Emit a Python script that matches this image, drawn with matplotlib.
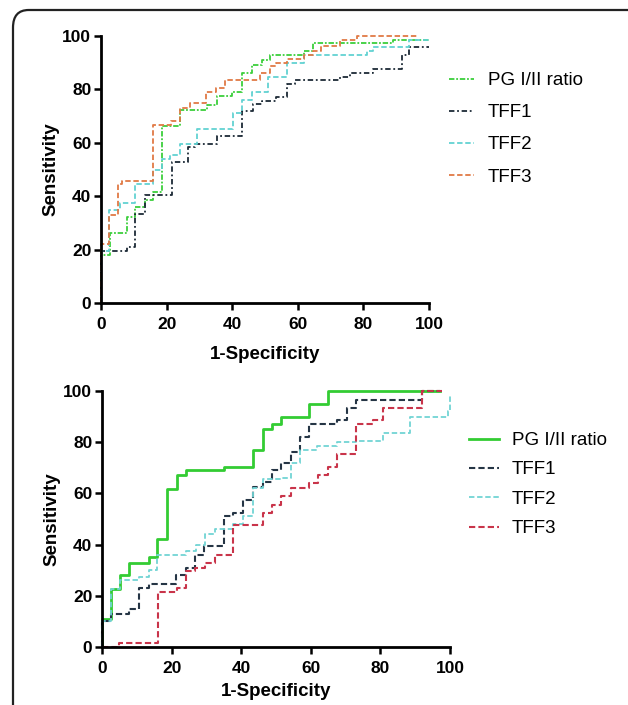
import matplotlib
matplotlib.use('Agg')
import matplotlib.pyplot as plt
from matplotlib.patches import FancyBboxPatch

plt.rcParams['font.family'] = ['Liberation Sans', 'DejaVu Sans']

labels = ['PG I/II ratio', 'TFF1', 'TFF2', 'TFF3']

# ---- top panel (step ROC curves: x breakpoints, sensitivity after each step)
top_pg_x = [0, 0, 2.7, 7.8, 10.4, 13.4, 16, 18.5, 24, 32.2, 35.3, 39.8, 43, 46, 49, 51.5, 62, 64.7, 89, 100]
top_pg_y = [0, 18, 26.3, 32.2, 36, 38.7, 41.6, 66.4, 72.2, 74, 77.5, 79, 86.3, 89, 91, 93, 94.5, 97.4, 98.6, 98.6]

top_t1_x = [0, 0, 7.8, 10.4, 13.4, 21.5, 26.6, 28.7, 35.3, 43, 46.4, 49, 53.5, 56.6, 59, 73, 76, 83, 91.7, 94, 100]
top_t1_y = [0, 19.4, 21, 33.5, 40.3, 52.8, 58.4, 59.5, 62.5, 72, 74.5, 75.5, 77, 82, 83.5, 84.5, 86, 87.5, 93, 96, 96]

top_t2_x = [0, 0, 2.5, 5.8, 10.4, 16, 18.5, 21, 24, 29.2, 40.3, 43, 46, 51, 56.6, 62, 81, 83, 94, 100]
top_t2_y = [0, 19.5, 34.7, 37.5, 44.5, 50, 54, 55.5, 59.5, 65, 71, 76, 79, 84.5, 90, 93, 94.5, 96, 98.5, 98.5]

top_t3_x = [0, 0, 2.5, 5.1, 6.3, 16, 21.2, 24, 27, 32, 35, 37.8, 48.5, 51.5, 53.5, 56.6, 62, 64.7, 67, 73, 78, 97]
top_t3_y = [0, 22, 33, 44.5, 45.7, 66.5, 68, 73, 75, 79, 80.5, 83.4, 86.2, 88.6, 90, 91.5, 93, 94.5, 96.2, 98.4, 100, 100]

# ---- bottom panel
bot_pg_x = [0, 0, 2.5, 5.2, 7.9, 13.5, 15.9, 18.8, 21.6, 24.1, 35, 43.3, 46.2, 48.8, 51.3, 59.6, 65, 97]
bot_pg_y = [0, 11, 22.8, 28, 32.8, 35, 42.3, 61.8, 67, 69, 70.5, 76.8, 85, 87, 89.8, 94.8, 100, 100]

bot_t1_x = [0, 0, 2.5, 7.9, 10.7, 13.5, 21.4, 24.1, 26.7, 29.3, 35, 37.7, 40.6, 43.3, 46.2, 48.8, 51.3, 54.2, 56.9, 59.6, 67.4, 70.3, 73, 91.9, 97]
bot_t1_y = [0, 10, 13, 15, 23, 24.7, 28, 31, 36, 39.5, 51, 52.5, 57.5, 62.5, 64.5, 69, 72, 76, 82, 87, 88.5, 93.4, 96.6, 100, 100]

bot_t2_x = [0, 0, 2.5, 5.2, 10.7, 13.5, 15.9, 24.1, 27, 29.5, 32.5, 37.7, 40.6, 43.3, 46.2, 51.3, 54.2, 56.9, 61.9, 67.4, 73, 80.8, 88.5, 99.5, 100]
bot_t2_y = [0, 10, 22.5, 26, 27.5, 30, 36, 37.5, 40, 44, 46, 48, 51, 62, 65.5, 66, 72, 77, 78.5, 80, 80.5, 83.5, 90, 92, 98]

bot_t3_x = [0, 5, 16.2, 21.6, 24.1, 26.7, 29.6, 32.5, 37.7, 46.2, 48.8, 51.3, 54.2, 59.6, 62.2, 65, 67.4, 73, 78, 80.8, 91.9, 97.6]
bot_t3_y = [0, 1.5, 21.5, 23, 29.5, 31, 33, 36, 47.5, 52.5, 55.5, 59, 62, 64, 67, 70.5, 75.5, 87, 88.5, 93.5, 100, 100]

ticks = [0, 20, 40, 60, 80, 100]


def style_axes(ax, xpad):
    ax.set_xlim(0, 100)
    ax.set_ylim(0, 100)
    ax.set_xticks(ticks)
    ax.set_yticks(ticks)
    for s in ['top', 'right']:
        ax.spines[s].set_visible(False)
    for s in ['left', 'bottom']:
        ax.spines[s].set_linewidth(2)
    ax.tick_params(direction='out', length=5, width=1.8, labelsize=12.5)
    ax.tick_params(axis='x', pad=5)
    ax.tick_params(axis='y', pad=2)
    for lab in ax.get_xticklabels() + ax.get_yticklabels():
        lab.set_fontweight('bold')
    ax.set_xlabel('1-Specificity', fontsize=13.5, fontweight='bold', labelpad=xpad)
    ax.set_ylabel('Sensitivity', fontsize=13.5, fontweight='bold', labelpad=2)


fig = plt.figure(figsize=(6.28, 7.05), dpi=100)

# frame around the figure (only the top-left corner is visible)
frame = FancyBboxPatch((13 / 628, -0.05), 1.1, 1 - 10 / 705 + 0.05,
                       boxstyle='round,pad=0,rounding_size=0.025',
                       transform=fig.transFigure, fill=False,
                       edgecolor='#222222', linewidth=1.6, clip_on=False)
fig.patches.append(frame)

ax1 = fig.add_axes([101 / 628, 1 - 303 / 705, 328 / 628, 267 / 705])
ax1.step(top_pg_x, top_pg_y, where='post', color='#3ccf3c', ls=(0, (3, 1, 1, 1)), lw=1.3, clip_on=False, label=labels[0])
ax1.step(top_t1_x, top_t1_y, where='post', color='#1c2a36', ls=(0, (3, 1.5, 1, 1.5)), lw=1.3, clip_on=False, label=labels[1])
ax1.step(top_t2_x, top_t2_y, where='post', color='#62d2d2', ls=(0, (3, 1.5)), lw=1.3, clip_on=False, label=labels[2])
ax1.step(top_t3_x, top_t3_y, where='post', color='#e07a45', ls=(0, (3, 1.5)), lw=1.3, clip_on=False, label=labels[3])
style_axes(ax1, 10)
ax1.legend(loc='upper left', bbox_to_anchor=(449 / 628, 1 - 72 / 705), bbox_transform=fig.transFigure,
           frameon=False, fontsize=13.5, handlelength=1.33, handletextpad=0.75, labelspacing=0.8,
           borderaxespad=0, borderpad=0)

ax2 = fig.add_axes([102 / 628, 1 - 647 / 705, 348 / 628, 256 / 705])
ax2.step(bot_pg_x, bot_pg_y, where='post', color='#33cc33', ls='-', lw=2, clip_on=False, label=labels[0])
ax2.step(bot_t1_x, bot_t1_y, where='post', color='#253545', ls=(0, (3, 1.5)), lw=1.5, clip_on=False, label=labels[1])
ax2.step(bot_t2_x, bot_t2_y, where='post', color='#72d4d4', ls=(0, (3, 1.5)), lw=1.3, clip_on=False, label=labels[2])
ax2.step(bot_t3_x, bot_t3_y, where='post', color='#c9344a', ls=(0, (3, 1.5)), lw=1.5, clip_on=False, label=labels[3])
style_axes(ax2, 5)
ax2.legend(loc='upper left', bbox_to_anchor=(469 / 628, 1 - 432 / 705), bbox_transform=fig.transFigure,
           frameon=False, fontsize=13.5, handlelength=1.6, handletextpad=0.7, labelspacing=0.65,
           borderaxespad=0, borderpad=0)

fig.savefig('out.png', dpi=100)
